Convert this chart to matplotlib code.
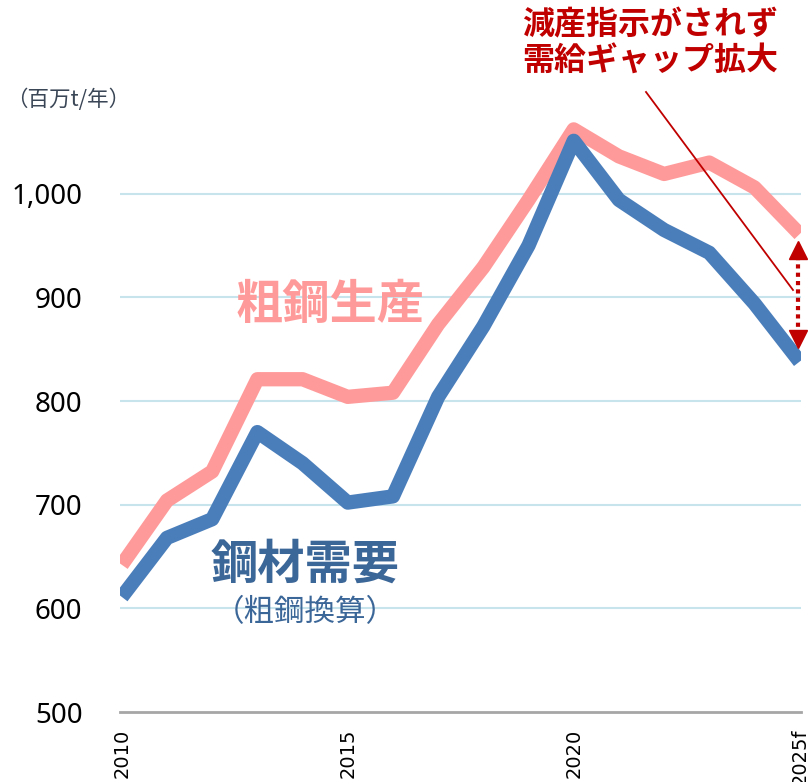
import numpy as np
import matplotlib
matplotlib.use("Agg")
from matplotlib import pyplot as plt

years = [2010, 2011, 2012, 2013, 2014, 2015, 2016, 2017,
         2018, 2019, 2020, 2021, 2022, 2023, 2024, 2025]
# 粗鋼生産 (crude steel production)
production = [642, 704, 732, 821, 821, 804, 808, 874,
              929, 994, 1062, 1036, 1019, 1030, 1006, 961]
# 鋼材需要 (steel demand, crude steel equivalent)
demand = [611, 668, 686, 770, 740, 702, 708, 804,
          872, 950, 1051, 994, 965, 943, 894, 838]
yticks = [500, 600, 700, 800, 900, 1000]
xticks = [2010, 2015, 2020, 2025]
xticklabels = ["2010", "2015", "2020", "2025f"]

W, H = 808, 782
CJK = ["Noto Sans CJK JP", "DejaVu Sans"]


def fx(px):
    return px / W


def fy(py):
    return 1 - py / H


fig = plt.figure(figsize=(W / 100, H / 100), dpi=100)
# axes box in pixels: x 120..801, y 90..712
ax = fig.add_axes([fx(120), fy(712), fx(801) - fx(120), fy(90) - fy(712)])

ax.plot(years, production, color="#ff9a9a", lw=10.3, solid_joinstyle="round",
        solid_capstyle="butt", zorder=3)
ax.plot(years, demand, color="#4a7ebb", lw=10.3, solid_joinstyle="round",
        solid_capstyle="butt", zorder=4)

ax.set_xlim(2009.96, 2025.03)
ax.set_ylim(500, 1100)
ax.set_yticks(yticks)
ax.set_yticklabels([f"{v:,}" for v in yticks], fontsize=20, family="Noto Sans")
ax.set_xticks(xticks)
ax.set_xticklabels(xticklabels, rotation=90, fontsize=14, family="DejaVu Sans",
                   va="top")
ax.tick_params(axis="y", length=0, pad=27)
ax.tick_params(axis="x", length=0, pad=12)

for v in yticks[1:]:
    ax.axhline(v, color="#c7e3ec", lw=1.5, zorder=1)
for s in ["top", "right", "left"]:
    ax.spines[s].set_visible(False)
ax.spines["bottom"].set_color("#a6a6a6")
ax.spines["bottom"].set_linewidth(2)
ax.spines["bottom"].set_zorder(2)

# gap arrow at 2025
gx = 2024.96
ax.plot([gx, gx], [940, 866], color="#c00000", lw=3, ls=(0, (1, 1)),
        zorder=5, clip_on=False)
ax.plot([gx], [946], marker="^", ms=13, color="#c00000", mec="#c00000",
        zorder=5, clip_on=False)
ax.plot([gx], [860], marker="v", ms=13, color="#c00000", mec="#c00000",
        zorder=5, clip_on=False)

# leader line from the note
fig.add_artist(plt.Line2D([fx(646), fx(793)], [fy(92), fy(290)],
                          color="#c00000", lw=1.3))

fig.text(fx(6), fy(100), "（百万t/年）", fontsize=15.5, family=CJK,
         color="#3a4656", ha="left", va="center")
fig.text(fx(330), fy(305), "粗鋼生産", fontsize=34, family=CJK,
         weight="bold", color="#ff9a9a", ha="center", va="center")
fig.text(fx(305), fy(565), "鋼材需要", fontsize=34, family=CJK,
         weight="bold", color="#3b6698", ha="center", va="center")
fig.text(fx(305), fy(613), "（粗鋼換算）", fontsize=22, family=CJK,
         color="#3b6698", ha="center", va="center")
fig.text(fx(650), fy(25), "減産指示がされず", fontsize=23, family=CJK,
         weight="bold", color="#c00000", ha="center", va="center")
fig.text(fx(650), fy(62), "需給ギャップ拡大", fontsize=23, family=CJK,
         weight="bold", color="#c00000", ha="center", va="center")

fig.savefig("out.png", dpi=100)
